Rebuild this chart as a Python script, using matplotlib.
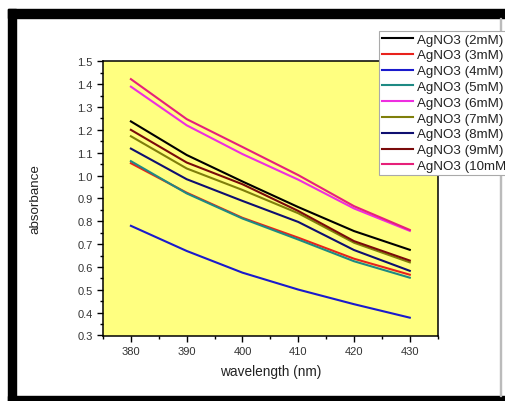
import matplotlib
matplotlib.use('Agg')
import matplotlib.pyplot as plt
from matplotlib.patches import Rectangle
from matplotlib.ticker import MultipleLocator

plt.rcParams['font.family'] = ['Liberation Sans', 'DejaVu Sans']

# wavelength (nm) and absorbance
wavelength = [380, 390, 400, 410, 420, 430]

abs_2mM = [1.237, 1.090, 0.974, 0.862, 0.757, 0.675]
abs_3mM = [1.054, 0.925, 0.815, 0.728, 0.636, 0.566]
abs_4mM = [0.780, 0.670, 0.575, 0.501, 0.437, 0.378]
abs_5mM = [1.063, 0.922, 0.812, 0.720, 0.625, 0.553]
abs_6mM = [1.389, 1.220, 1.094, 0.982, 0.856, 0.758]
abs_7mM = [1.172, 1.031, 0.937, 0.835, 0.706, 0.620]
abs_8mM = [1.118, 0.984, 0.889, 0.797, 0.674, 0.583]
abs_9mM = [1.200, 1.057, 0.962, 0.845, 0.713, 0.628]
abs_10mM = [1.422, 1.247, 1.125, 1.002, 0.866, 0.762]

labels = ['AgNO3 (2mM)', 'AgNO3 (3mM)', 'AgNO3 (4mM)', 'AgNO3 (5mM)',
          'AgNO3 (6mM)', 'AgNO3 (7mM)', 'AgNO3 (8mM)', 'AgNO3 (9mM)',
          'AgNO3 (10mM)']
series = [abs_2mM, abs_3mM, abs_4mM, abs_5mM, abs_6mM,
          abs_7mM, abs_8mM, abs_9mM, abs_10mM]
colors = ['#000000', '#e8221c', '#1a1acc', '#1e8a84', '#ee2ee0',
          '#7f7f0a', '#0f0f70', '#7a0a0a', '#e6207a']

W, H = 506, 402


def main():
    fig = plt.figure(figsize=(W / 100, H / 100), dpi=100)
    fig.patch.set_facecolor('white')

    # black frame around the picture (top, left, bottom) + thin grey right edge
    fig.patches.append(Rectangle((8 / W, 0), 8 / W, 1 - 10 / H,
                                 transform=fig.transFigure, color='black', zorder=0))
    fig.patches.append(Rectangle((8 / W, 1 - 19 / H), 1, 9 / H,
                                 transform=fig.transFigure, color='black', zorder=0))
    fig.patches.append(Rectangle((8 / W, 0), 1, 5 / H,
                                 transform=fig.transFigure, color='black', zorder=0))
    fig.patches.append(Rectangle((500 / W, 5 / H), 1 / W, 1 - 24 / H,
                                 transform=fig.transFigure, color='#bbbbbb', zorder=0))

    left, right = 103 / W, 437.7 / W
    bottom, top = 1 - 336.5 / H, 1 - 62.3 / H
    ax = fig.add_axes([left, bottom, right - left, top - bottom])
    ax.set_facecolor('#ffff80')

    handles = []
    for y, c, lab in zip(series, colors, labels):
        h, = ax.plot(wavelength, y, color=c, lw=1.5, label=lab)
        handles.append(h)

    ax.set_xlim(375, 435)
    ax.set_ylim(0.3, 1.5)
    ax.xaxis.set_major_locator(MultipleLocator(10))
    ax.xaxis.set_minor_locator(MultipleLocator(5))
    ax.yaxis.set_major_locator(MultipleLocator(0.1))
    ax.yaxis.set_minor_locator(MultipleLocator(0.05))
    ax.yaxis.set_major_formatter(plt.FormatStrFormatter('%.1f'))
    ax.tick_params(which='both', direction='out', top=False, right=False,
                   width=1, colors='black', labelcolor='#333333', labelsize=8)
    ax.tick_params(which='major', length=4)
    ax.tick_params(which='minor', length=2.5)
    for s in ax.spines.values():
        s.set_linewidth(1.1)

    ax.set_xlabel('wavelength (nm)', fontsize=9.8, color='#222222')
    ax.set_ylabel('absorbance', fontsize=9.6, color='#222222')
    ax.xaxis.set_label_coords(0.5, (336.5 - 371.7) / 274.2)
    ax.yaxis.set_label_coords((35 - 103) / 334.7, 0.5)
    ax.xaxis.label.set_va('center')
    ax.yaxis.label.set_va('center')

    leg = fig.legend(handles=handles, loc='upper left',
                     bbox_to_anchor=(379.3 / W, 1 - 31.7 / H),
                     fontsize=9.6, frameon=True, fancybox=False,
                     borderaxespad=0, borderpad=0.2, labelspacing=0.26,
                     handlelength=2.35, handletextpad=0.3)
    leg.get_frame().set_edgecolor('#aaaaaa')
    leg.get_frame().set_linewidth(0.8)
    leg.get_frame().set_alpha(1)
    for t in leg.get_texts():
        t.set_color('#222222')

    fig.savefig('out.png', dpi=100)


if __name__ == '__main__':
    main()
